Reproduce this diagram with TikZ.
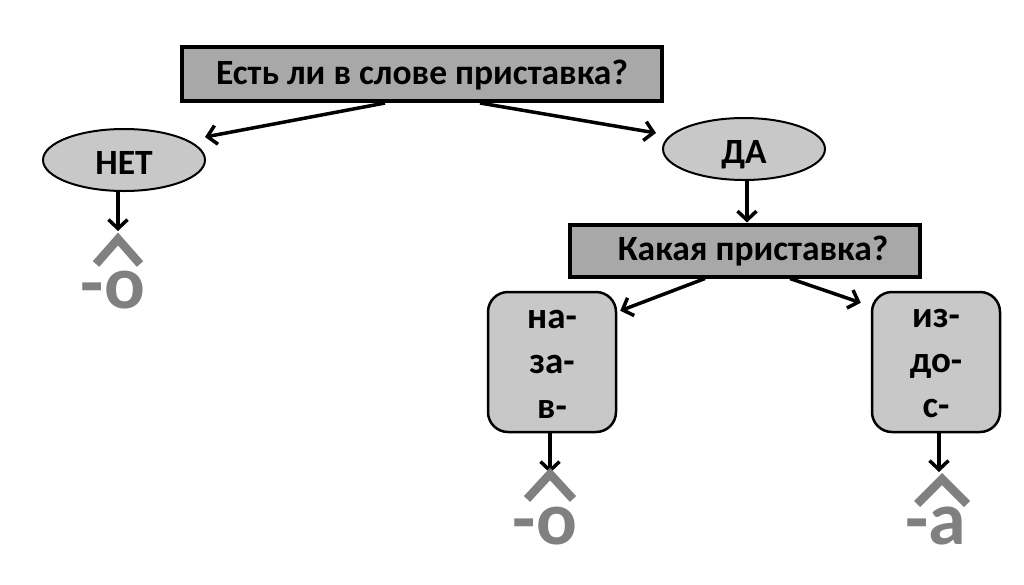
\documentclass[tikz,border=0pt]{standalone}
\usepackage{fontspec}
\setmainfont{Carlito}
\usetikzlibrary{arrows.meta,shapes.geometric}
\definecolor{boxgray}{HTML}{A8A8A8}
\definecolor{lightgray}{HTML}{C8C8C8}
\definecolor{vowelgray}{HTML}{808080}
\tikzset{
  qbox/.style={draw=black, line width=4pt, fill=boxgray, inner sep=0pt, text height=20pt, text depth=0pt, font=\fontsize{35.5}{40}\selectfont\bfseries},
  answer/.style={ellipse, draw=black, line width=2pt, fill=lightgray, minimum width=162pt, minimum height=62pt, inner sep=0pt, text height=29pt, text depth=0pt, font=\fontsize{35.5}{40}\selectfont\bfseries},
  prefbox/.style={draw=black, line width=2.5pt, fill=lightgray, rounded corners=20pt, minimum width=128pt, minimum height=140pt, inner sep=0pt, align=center, font=\fontsize{37}{45}\selectfont\bfseries},
  arr/.style={line width=3.5pt, -{Straight Barb[length=9pt,width=19pt,line width=3.5pt]}},
  chev/.style={draw=vowelgray, line width=8.5pt, miter limit=10},
  vowel/.style={text=vowelgray, anchor=base, inner sep=0pt, font=\fontsize{76}{80}\selectfont\bfseries}
}
\begin{document}
\begin{tikzpicture}[x=1pt,y=-1pt]
\useasboundingbox (0,0) rectangle (1024,584);
\node[qbox, minimum width=480pt, minimum height=54pt] (top) at (422,74) {Есть ли в слове приставка?};
\node[answer] (net) at (124,160) {НЕТ};
\node[answer] (da) at (744,149) {ДА};
\node[qbox, minimum width=350pt, minimum height=52pt] (q2) at (745,250.5) {\hspace*{16pt}Какая приставка?};
\node[prefbox] (left) at (552,362) {\rule{0pt}{22pt}на-\\за-\\в-};
\node[prefbox] (right) at (936,362) {\rule{0pt}{22pt}из-\\до-\\с-};
\coordinate (netend) at (118,231);
\coordinate (leftend) at (550,473);
\coordinate (rightend) at (939,472);
\draw[arr] ([xshift=-37pt]top.south) -- ([xshift=-1pt,yshift=23pt]net.east);
\draw[arr] ([xshift=58pt]top.south) -- ([xshift=-6pt,yshift=16pt]da.west);
\draw[arr] (net.south -| netend) -- (netend);
\draw[arr] (da.south -| 747,0) -- (q2.north -| 747,0);
\draw[arr] ([xshift=-40pt]q2.south) -- ([xshift=3pt,yshift=-20pt]left.north east);
\draw[arr] ([xshift=45pt]q2.south) -- ([xshift=-10pt,yshift=-12pt]right.north west);
\draw[arr] (left.south -| leftend) -- (leftend);
\draw[arr] (right.south -| rightend) -- (rightend);
\draw[chev] (96,264) -- (118,239) -- (140,264);
\draw[chev] (527,499) -- (550,474) -- (573,499);
\draw[chev] (917,504) -- (942,479) -- (967,504);
\node[vowel] (v1) at (113,308) {-о};
\node[vowel] (v2) at (545,544) {-о};
\node[vowel] (v3) at (936,544) {-а};
\end{tikzpicture}
\end{document}
